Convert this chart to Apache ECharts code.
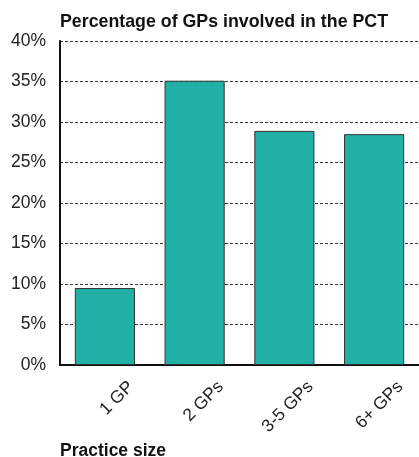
<!DOCTYPE html>
<html>
<head>
<meta charset="utf-8">
<script src="https://cdn.jsdelivr.net/npm/echarts@6/dist/echarts.min.js"></script>
<style>
html,body{margin:0;padding:0;background:#fff;}
#chart{width:419px;height:457px;}
</style>
</head>
<body>
<div id="chart"></div>
<script>
var categories = ['1 GP', '2 GPs', '3-5 GPs', '6+ GPs'];
var values = [9.5, 35.1, 28.9, 28.5];

var font = 'Liberation Sans, Arial, Helvetica, sans-serif';
var chart = echarts.init(document.getElementById('chart'));
var option = {
	animation: false,
	title: [
		{
			text: 'Percentage of GPs involved in the PCT',
			left: 60, top: 13, padding: 0,
			textStyle: { fontFamily: font, fontSize: 17.8, fontWeight: 'bold', color: '#111' }
		},
		{
			text: 'Practice size',
			left: 60, top: 442, padding: 0,
			textStyle: { fontFamily: font, fontSize: 17.5, fontWeight: 'bold', color: '#111' }
		}
	],
	grid: { left: 60, right: -3, top: 41, bottom: 92, containLabel: false },
	xAxis: {
		type: 'category',
		data: categories,
		axisLine: { lineStyle: { color: '#111', width: 2 } },
		axisTick: { show: false },
		axisLabel: {
			rotate: 45, align: 'right', verticalAlign: 'top',
			padding: [28, 0, 0, 0], margin: -7,
			fontFamily: font, fontSize: 17.5, color: '#222'
		}
	},
	yAxis: {
		type: 'value',
		min: 0, max: 40, interval: 5,
		axisLine: { show: true, lineStyle: { color: '#111', width: 2 } },
		axisTick: { show: false },
		axisLabel: { formatter: '{value}%', fontFamily: font, fontSize: 17.5, color: '#222', margin: 14 },
		splitLine: { lineStyle: { color: '#333', type: [3, 2], width: 1 } }
	},
	series: [{
		type: 'bar',
		data: values,
		barWidth: '67%',
		itemStyle: { color: '#20b0a5', borderColor: '#333', borderWidth: 1 }
	}]
};
chart.setOption(option);
</script>
</body>
</html>
